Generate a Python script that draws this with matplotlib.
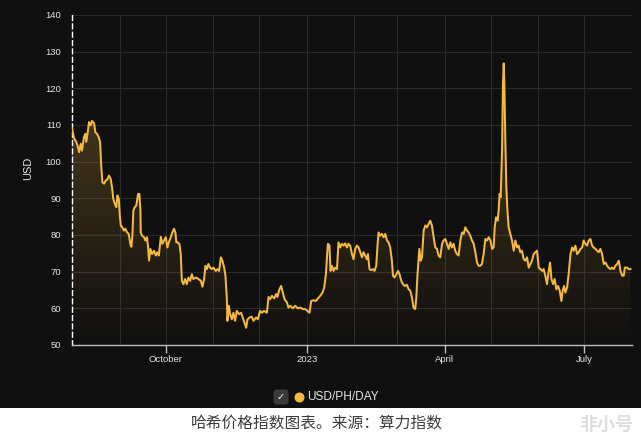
import numpy as np
import pandas as pd
import matplotlib
matplotlib.use("Agg")
import matplotlib.pyplot as plt
import matplotlib.dates as mdates
from matplotlib.patches import FancyBboxPatch, Rectangle
from matplotlib.lines import Line2D

# hashprice index, days counted from 2022-08-01
start = pd.Timestamp("2022-08-01")
day = [0.0, 1.3, 2.8, 3.9, 4.6, 5.7, 6.5, 7.8, 8.7, 9.3, 10.4, 11.1, 12.2, 13.0, 14.4,
       15.2, 16.3, 17.4, 18.3, 19.1, 19.8, 20.9, 22.0, 23.0, 24.1, 25.2, 26.1, 26.9,
       27.9, 28.9, 29.6, 30.5, 31.1, 31.8, 32.8, 33.9, 34.8, 35.9, 37.0, 38.0, 38.7,
       39.3, 40.0, 40.9, 41.9, 43.1, 43.9, 44.6, 44.8, 45.7, 47.0, 47.8, 48.9, 49.6,
       50.2, 51.1, 52.2, 53.5, 54.6, 55.6, 56.6, 57.9, 58.9, 60.0, 61.1, 62.2, 63.1,
       64.4, 65.4, 66.5, 67.4, 68.0, 68.7, 70.0, 70.9, 71.6, 72.6, 73.7, 74.8, 75.9,
       77.0, 78.1, 79.1, 80.9, 82.4, 84.0, 85.0, 86.1, 87.0, 87.9, 88.9, 90.0, 91.1,
       92.2, 93.7, 94.8, 95.9, 97.0, 98.0, 99.2, 100.0, 100.9, 101.3, 102.2, 103.1,
       104.2, 105.2, 106.3, 107.4, 108.9, 110.2, 111.7, 113.5, 114.4, 115.7, 117.2,
       118.3, 120.0, 121.1, 122.6, 123.7, 125.2, 127.0, 128.1, 129.2, 130.3, 131.8,
       133.1, 133.9, 135.2, 136.3, 137.4, 138.5, 140.1, 141.1, 142.2, 144.0, 145.5,
       147.2, 148.7, 150.5, 152.0, 153.5, 154.8, 155.9, 157.4, 159.0, 160.3, 161.8,
       163.3, 164.4, 165.5, 166.3, 166.8, 167.8, 168.5, 169.4, 170.5, 171.6, 172.7,
       173.7, 174.8, 175.9, 177.0, 178.1, 179.2, 180.2, 181.3, 182.5, 183.5, 184.6,
       185.7, 186.8, 187.9, 189.0, 190.0, 191.1, 192.2, 192.9, 193.9, 195.0, 196.2,
       197.2, 198.3, 199.2, 199.8, 200.9, 202.0, 203.1, 204.2, 205.3, 206.3, 207.4,
       208.5, 209.2, 210.2, 211.4, 212.5, 213.5, 214.6, 215.7, 216.8, 218.3, 219.4,
       220.5, 221.6, 222.6, 223.7, 224.4, 225.2, 226.4, 227.2, 228.1, 229.2, 230.3,
       231.4, 232.4, 233.5, 234.6, 235.7, 236.8, 237.9, 238.9, 240.0, 241.2, 242.2,
       243.3, 244.4, 245.5, 246.6, 247.7, 248.7, 249.8, 250.9, 252.0, 253.1, 254.2,
       255.3, 256.4, 257.5, 258.5, 259.6, 260.7, 261.8, 262.9, 264.0, 265.0, 266.1,
       267.2, 268.3, 269.4, 270.5, 271.6, 272.7, 273.8, 274.8, 275.5, 276.4, 277.4,
       278.1, 278.7, 279.4, 280.3, 280.9, 281.4, 281.8, 282.5, 283.1, 283.8, 284.6,
       285.7, 286.8, 287.9, 289.0, 290.1, 291.1, 292.2, 293.3, 294.4, 295.5, 296.6,
       297.7, 298.8, 299.8, 300.9, 302.0, 303.1, 304.2, 305.3, 306.4, 307.4, 308.5,
       309.6, 310.7, 311.6, 312.5, 313.6, 314.6, 315.7, 316.8, 317.9, 319.0, 319.8,
       320.7, 321.6, 322.7, 323.7, 324.9, 326.0, 327.0, 328.1, 329.2, 330.3, 331.4,
       332.5, 333.5, 334.6, 335.7, 336.8, 337.9, 339.0, 340.0, 341.2, 342.3, 343.3,
       344.4, 345.5, 346.6, 347.7, 348.8, 349.8, 350.9, 352.0, 353.1, 354.2, 355.3,
       356.4, 357.5, 358.6, 359.6, 360.3, 361.8, 362.9, 364.0]
usd = [109.1, 106.4, 105.4, 104.0, 102.6, 104.9, 103.0, 106.7, 107.6, 105.4, 108.5, 110.8,
       109.9, 111.1, 110.5, 108.0, 107.6, 106.7, 105.4, 98.6, 94.4, 94.0, 94.9, 95.1,
       96.2, 95.3, 93.0, 89.9, 88.5, 87.6, 90.8, 89.9, 85.7, 82.6, 82.1, 81.2, 81.7,
       80.7, 80.3, 77.6, 76.8, 79.4, 86.7, 87.6, 88.0, 91.2, 91.2, 86.7, 80.7, 79.8,
       79.4, 78.5, 79.4, 76.6, 73.0, 76.2, 74.8, 75.7, 74.4, 75.3, 74.4, 79.5, 77.6,
       78.5, 79.4, 76.6, 78.0, 79.4, 80.7, 81.7, 80.7, 78.0, 78.0, 77.6, 74.8, 67.5,
       66.6, 68.0, 66.6, 68.4, 67.5, 69.3, 68.0, 68.4, 68.0, 67.5, 65.9, 68.0, 71.6,
       70.7, 72.1, 71.1, 70.7, 71.1, 70.2, 70.7, 70.2, 73.9, 73.0, 71.1, 68.9, 62.9,
       56.6, 60.7, 58.4, 57.0, 58.8, 56.6, 59.3, 58.4, 58.8, 57.0, 54.7, 57.0, 57.5,
       57.7, 56.6, 57.5, 57.0, 59.3, 58.8, 59.3, 58.8, 63.1, 62.5, 63.4, 62.7, 63.9,
       63.1, 65.2, 66.1, 64.3, 62.5, 61.6, 60.2, 60.7, 60.0, 60.7, 60.0, 60.2, 59.8,
       59.8, 59.3, 58.8, 62.0, 62.2, 62.0, 62.7, 63.4, 64.3, 65.7, 69.3, 74.8, 77.6,
       77.1, 70.2, 71.6, 70.2, 71.1, 70.7, 78.0, 76.6, 77.6, 77.1, 77.7, 76.6, 77.6,
       77.1, 74.8, 73.4, 76.2, 77.1, 76.6, 75.3, 73.9, 75.3, 74.4, 73.4, 74.8, 70.7,
       70.4, 70.7, 70.2, 71.6, 77.6, 80.7, 79.8, 80.3, 79.4, 80.3, 78.5, 78.0, 76.6,
       73.0, 68.9, 68.4, 69.3, 70.2, 69.3, 67.5, 66.6, 66.1, 66.4, 65.2, 64.8, 62.9,
       60.2, 59.8, 62.9, 69.3, 76.2, 73.0, 73.9, 81.2, 82.6, 82.1, 83.0, 83.9, 82.6,
       79.4, 76.6, 76.2, 74.4, 73.9, 77.6, 78.5, 78.9, 77.6, 76.2, 78.0, 76.6, 77.6,
       75.7, 74.8, 74.4, 78.5, 80.7, 80.3, 82.1, 81.2, 80.7, 79.8, 78.5, 77.6, 75.3,
       72.5, 71.6, 71.6, 72.1, 74.8, 78.9, 78.5, 79.4, 78.5, 76.2, 76.6, 82.1, 84.8,
       83.9, 86.7, 91.2, 90.3, 103.1, 121.3, 126.8, 121.3, 104.9, 93.0, 86.7, 82.1,
       80.3, 78.5, 75.7, 78.5, 76.6, 77.1, 75.3, 75.7, 73.4, 73.0, 73.9, 71.1, 72.1,
       73.0, 74.8, 75.3, 75.7, 71.1, 70.7, 70.2, 70.7, 68.9, 66.6, 70.2, 72.5, 68.0,
       66.6, 68.0, 65.2, 66.1, 64.8, 62.0, 64.8, 66.1, 64.3, 65.7, 69.3, 74.8, 76.6,
       75.7, 77.1, 74.8, 75.3, 76.2, 76.6, 78.5, 77.6, 77.1, 78.5, 78.9, 77.1, 76.6,
       76.2, 75.7, 75.3, 76.2, 74.8, 72.1, 72.5, 71.6, 71.1, 70.7, 71.1, 70.7, 71.6,
       72.1, 73.0, 70.2, 68.9, 68.9, 71.1, 71.1, 70.7, 70.7]

tick_dates = ["2022-10-01", "2023-01-01", "2023-04-01", "2023-07-01"]
tick_labels = ["October", "2023", "April", "July"]
series_name = "USD/PH/DAY"
y_label = "USD"
caption = "哈希价格指数图表。来源：算力指数"
watermark = "非小号"

plt.rcParams["font.family"] = ["Liberation Sans", "Noto Sans CJK SC", "DejaVu Sans"]

bg = "#101010"
gold = "#f5b840"
grid_c = "#2b2b2b"
text_c = "#e6e6e6"

fig = plt.figure(figsize=(6.41, 4.40), dpi=100, facecolor=bg)
ax = fig.add_axes([72 / 641, 1 - 345 / 440, (632 - 72) / 641, 330 / 440])
ax.set_facecolor(bg)

dates = start + pd.to_timedelta(day, unit="D")
x = mdates.date2num(dates)
ax.plot(x, usd, color=gold, lw=1.45, zorder=4, solid_joinstyle="round")

# gradient fill under the line
poly = ax.fill_between(x, usd, 50, color="none", lw=0)
grad = np.zeros((256, 1, 4))
grad[..., :3] = matplotlib.colors.to_rgb(gold)
grad[..., 3] = np.linspace(0.0, 0.32, 256)[:, None]
im = ax.imshow(grad, extent=[x.min(), x.max(), 50, 140], origin="lower",
               aspect="auto", zorder=2, interpolation="bicubic")
im.set_clip_path(poly.get_paths()[0], transform=ax.transData)

x0 = mdates.date2num(start)
ax.set_xlim(x0, x0 + 365)
ax.set_ylim(50, 140)
ax.set_yticks(range(50, 141, 10))

months = pd.date_range("2022-09-01", "2023-07-01", freq="MS")
ax.set_xticks(mdates.date2num(months), minor=True)
ax.set_xticks(mdates.date2num(pd.to_datetime(tick_dates)))
ax.set_xticklabels(tick_labels)
ax.grid(which="both", color=grid_c, lw=0.8, zorder=0)
ax.set_axisbelow(True)

for s in ["top", "right"]:
    ax.spines[s].set_visible(False)
ax.spines["left"].set_color("white")
ax.spines["left"].set_linestyle((0, (3.5, 2.5)))
ax.spines["left"].set_linewidth(1.0)
ax.spines["bottom"].set_color("#bdbdbd")
ax.spines["bottom"].set_linewidth(1.0)

ax.tick_params(axis="x", which="major", length=5.5, color="#bdbdbd", width=1,
               labelsize=6.8, labelcolor=text_c, pad=2)
ax.tick_params(axis="x", which="minor", length=0)
ax.tick_params(axis="y", length=0, labelsize=6.8, labelcolor=text_c, pad=8)

fig.text(28 / 641, 1 - 168 / 440, y_label, rotation=90, color=text_c,
         fontsize=7.9, ha="center", va="center")

# legend row
tr = fig.dpi_scale_trans
box = FancyBboxPatch((2.735, 0.355), 0.15, 0.15, boxstyle="round,pad=0,rounding_size=0.03",
                     transform=tr, facecolor="#3a3a3a", edgecolor="none")
fig.patches.append(box)
fig.text(2.81, 0.43, "✓", transform=tr, color="white", fontsize=7, fontweight="bold",
         ha="center", va="center", family="DejaVu Sans")
fig.lines.append(Line2D([2.985], [0.432], marker="o", ms=6.2, color=gold, transform=tr,
                        figure=fig))
fig.text(3.07, 0.43, series_name, transform=tr, color=text_c, fontsize=8.6,
         ha="left", va="center")

# caption band
fig.patches.append(Rectangle((0, 0), 1, 32 / 440, transform=fig.transFigure,
                             facecolor="white", edgecolor="none"))
fig.text(0.495, 1 - 423 / 440, caption, color="#3c3c3c", fontsize=11.3,
         ha="center", va="center", family=["Noto Sans CJK SC", "DejaVu Sans"])
fig.text(633 / 641, 1 - 424 / 440, watermark, color="#dedede", fontsize=13,
         ha="right", va="center", fontweight="bold",
         family=["Noto Sans CJK SC", "DejaVu Sans"])

fig.savefig("out.png", dpi=100, facecolor=bg)
